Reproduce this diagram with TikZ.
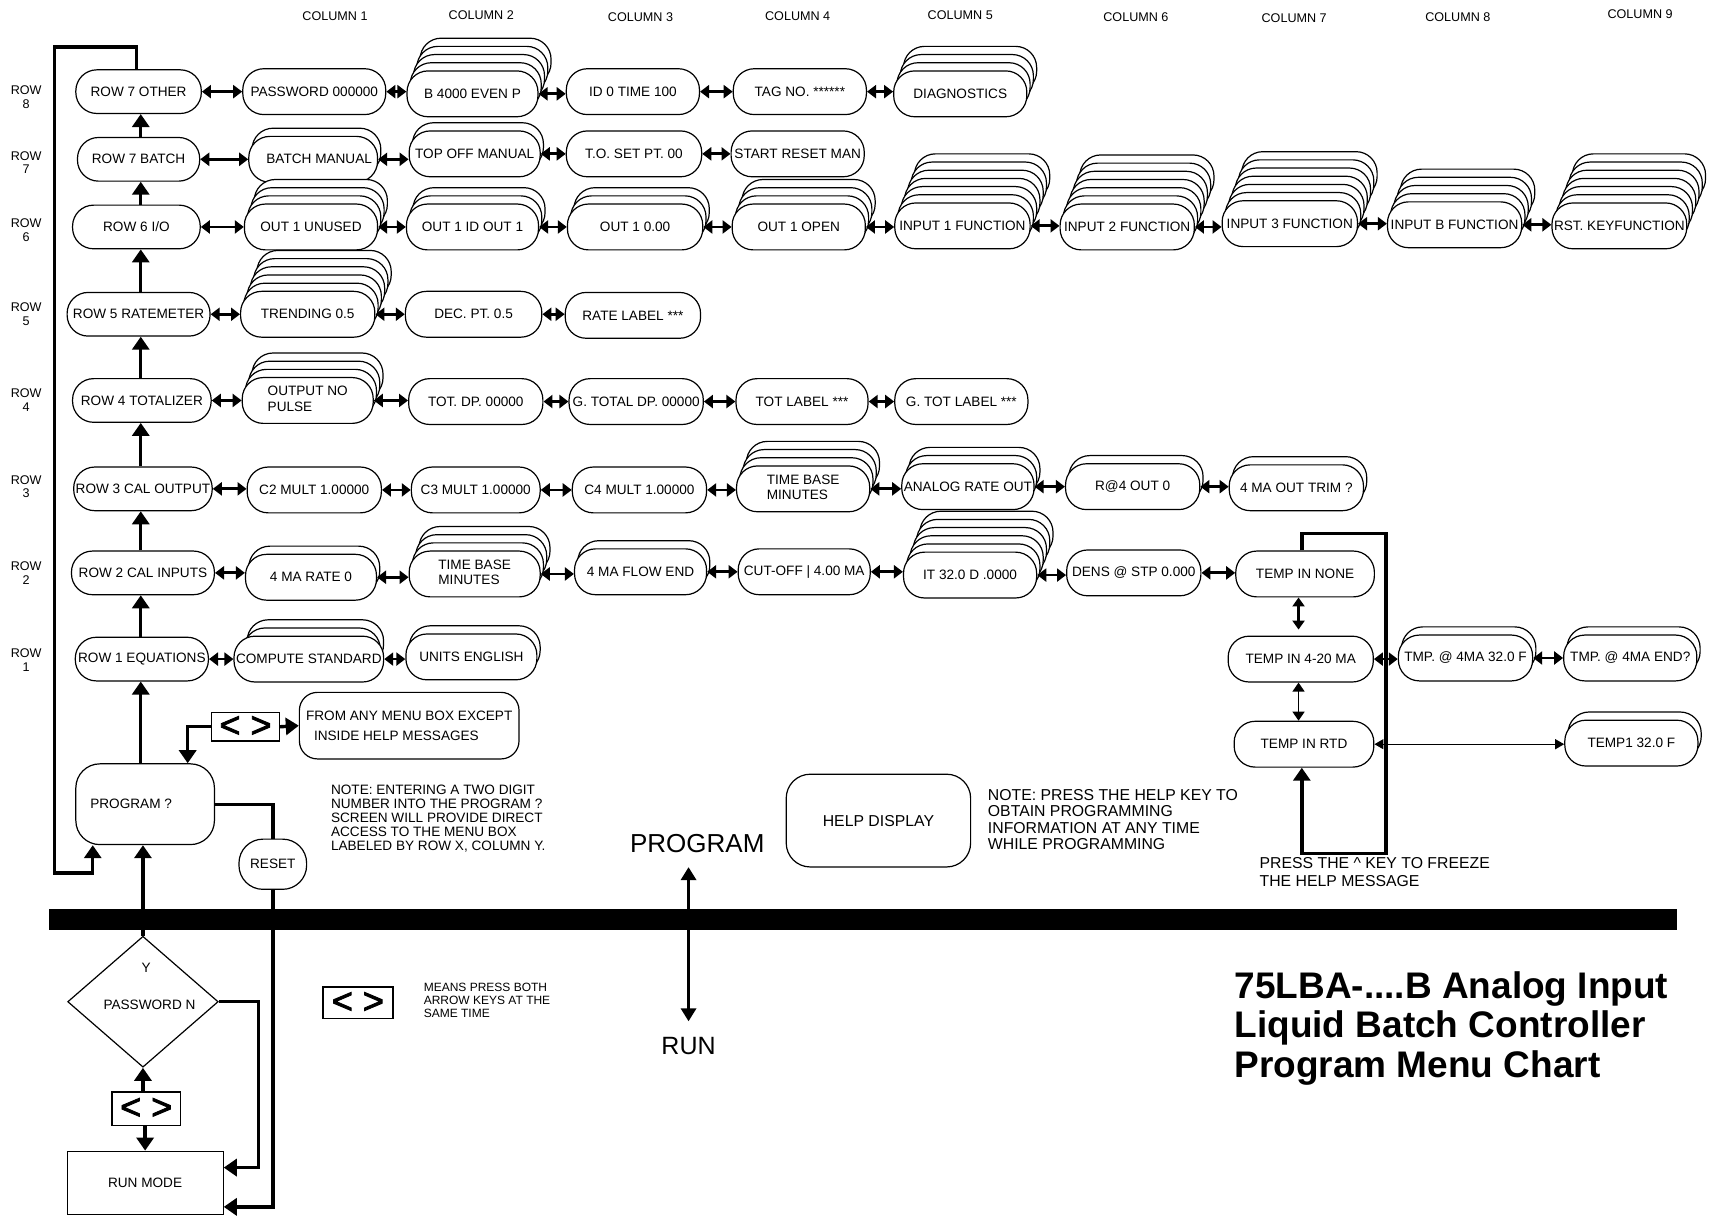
\documentclass[tikz,border=0pt]{standalone}
\usepackage{fontspec}
\setmainfont{Liberation Sans}
\newfontfamily\chevf[FakeBold=2.5]{Liberation Sans}
\usetikzlibrary{arrows.meta,shapes.geometric,calc}
\def\pxu{0.5456pt}
\newcommand\bxf{\fontsize{6.8}{7.6}\selectfont}
\newcommand\lblf{\fontsize{6.3}{6.9}\selectfont}
\newcommand\mstack[6]{%
  \ifnum#5>0
    \foreach \k in {#5,...,1}{\node[mbox, minimum width=#4*\pxu] at ({#2+3*\k},{#3-7.5*\k}) {};}
  \fi
  \node[mbox, minimum width=#4*\pxu] (#1) at (#2,#3) {#6};}
\newcommand\harr[2]{\draw[dbl] (#1.east) -- (#1.east -| #2.west);}
\begin{document}
\begin{tikzpicture}[x=0.5456pt,y=-0.5456pt,
  mbox/.style={draw, line width=0.6pt, rounded corners=10.5pt, minimum height=42*\pxu, inner sep=1pt, fill=white, font=\bxf, align=center},
  lbox/.style={mbox, minimum height=40*\pxu},
  dbl/.style={line width=1.4pt, {Triangle[length=4.5pt,width=6.5pt]}-{Triangle[length=4.5pt,width=6.5pt]}},
  thindbl/.style={line width=0.6pt, {Triangle[length=4.5pt,width=5pt]}-{Triangle[length=4.5pt,width=5pt]}},
  upar/.style={line width=1.7pt, -{Triangle[length=6.5pt,width=8.5pt]}},
  loopl/.style={line width=1.7pt},
  keybox/.style={draw, line width=0.8pt, inner sep=0pt, font=\fontsize{18}{18}\chevf},
  plain/.style={inner sep=0pt, align=left, anchor=north west}]
\useasboundingbox (0,0) rectangle (1568,1115);

% column and row labels
\foreach \c/\xx/\yy in {1/307/15,2/441/14,3/587/16,4/731/15,5/880/14,6/1041/16,7/1186/17,8/1336/16,9/1503/13}
  \node[font=\lblf] (cl\c) at (\xx,\yy) {COLUMN \c};
\foreach \r/\yy in {8/89,7/149,6/211,5/288,4/367,3/446,2/525,1/605}
  \node[font=\lblf, align=center] (rl\r) at (24,\yy) {ROW\\\r};

% left column
\node[lbox, minimum width=115*\pxu] (r8) at (127,84) {ROW 7 OTHER};
\node[lbox, minimum width=112*\pxu] (r7) at (127,146) {ROW 7 BATCH};
\node[lbox, minimum width=117*\pxu] (r6) at (125,208) {ROW 6 I/O};
\node[lbox, minimum width=131*\pxu] (r5) at (127,288) {ROW 5 RATEMETER};
\node[lbox, minimum width=127*\pxu] (r4) at (130,367) {ROW 4 TOTALIZER};
\node[lbox, minimum width=125*\pxu] (r3) at (131,448) {ROW 3 CAL OUTPUT};
\node[lbox, minimum width=131*\pxu] (r2) at (131,525) {ROW 2 CAL INPUTS};
\node[lbox, minimum width=122*\pxu] (r1) at (130,604) {ROW 1 EQUATIONS};

% row 8
\mstack{a82}{288}{84}{131}{0}{PASSWORD 000000}
\mstack{a83}{433}{86}{120}{4}{B 4000 EVEN P}
\mstack{a84}{580}{84}{122}{0}{ID 0 TIME 100}
\mstack{a85}{733}{84}{122}{0}{TAG NO. ******}
\mstack{a86}{880}{86}{122}{3}{DIAGNOSTICS}
% row 7
\mstack{a72}{287}{146}{118}{1}{\hspace*{6pt}BATCH MANUAL}
\mstack{a73}{435}{141}{120}{1}{TOP OFF MANUAL}
\mstack{a74}{581}{141}{124}{0}{T.O. SET PT. 00}
\mstack{a75}{731}{141}{122}{0}{START RESET MAN}
% row 6
\mstack{a62}{285}{208}{122}{3}{OUT 1 UNUSED}
\mstack{a63}{433}{208}{121}{2}{OUT 1 ID OUT 1}
\mstack{a64}{582}{208}{124}{2}{OUT 1 0.00}
\mstack{a65}{732}{208}{122}{3}{OUT 1 OPEN}
\mstack{a66}{882}{207}{124}{6}{INPUT 1 FUNCTION}
\mstack{a67}{1033}{208}{123}{6}{INPUT 2 FUNCTION}
\mstack{a68}{1182}{205}{124}{6}{INPUT 3 FUNCTION}
\mstack{a69}{1333}{206}{123}{4}{INPUT B FUNCTION}
\mstack{a6a}{1484}{207}{122}{6}{RST. KEYFUNCTION}
% row 5
\mstack{a52}{282}{288}{123}{5}{TRENDING 0.5}
\mstack{a53}{434}{288}{125}{0}{DEC. PT. 0.5}
\mstack{a54}{580}{289}{124}{0}{RATE LABEL ***}
% row 4
\mstack{a42}{282}{367}{120}{3}{\begin{tabular}{@{}l@{}}OUTPUT NO\\PULSE\end{tabular}}
\mstack{a43}{436}{368}{123}{0}{TOT. DP. 00000}
\mstack{a44}{583}{368}{123}{0}{G. TOTAL DP. 00000}
\mstack{a45}{735}{368}{121}{0}{TOT LABEL ***}
\mstack{a46}{881}{368}{122}{0}{G. TOT LABEL ***}
% row 3
\mstack{a32}{288}{449}{123}{0}{C2 MULT 1.00000}
\mstack{a33}{436}{449}{118}{0}{C3 MULT 1.00000}
\mstack{a34}{586}{449}{123}{0}{C4 MULT 1.00000}
\mstack{a35}{736}{448}{122}{3}{\begin{tabular}{@{}l@{}}TIME BASE\\MINUTES\end{tabular}}
\mstack{a36}{887}{446}{120}{2}{ANALOG RATE OUT}
\mstack{a37}{1038}{446}{123}{1}{R@4 OUT 0}
\mstack{a38}{1188}{447}{123}{1}{4 MA OUT TRIM ?}
% row 2
\mstack{a22}{285}{529}{120}{1}{4 MA RATE 0}
\mstack{a23}{435}{526}{120}{3}{\begin{tabular}{@{}l@{}}TIME BASE\\MINUTES\end{tabular}}
\mstack{a24}{587}{524}{121}{1}{4 MA FLOW END}
\mstack{a25}{737}{524}{121}{0}{CUT-OFF | 4.00 MA}
\mstack{a26}{889}{527}{122}{5}{IT 32.0 D .0000}
\mstack{a27}{1039}{525}{123}{0}{DENS @ STP 0.000}
\mstack{a28}{1196}{526}{127}{0}{TEMP IN NONE}
% row 1
\mstack{a12}{283}{604}{125}{2}{COMPUTE STANDARD}
\mstack{a13}{432}{602}{120}{1}{UNITS ENGLISH}
\mstack{t2}{1192}{604}{133}{0}{TEMP IN 4-20 MA}
\mstack{t3}{1343}{603}{123}{1}{TMP. @ 4MA 32.0 F}
\mstack{t4}{1494}{603}{122}{1}{TMP. @ 4MA END?}
\mstack{trtd}{1195}{682}{128}{0}{TEMP IN RTD}
\mstack{tt1}{1495}{681}{122}{1}{TEMP1 32.0 F}

% row double arrows
\harr{r8}{a82}\harr{a82}{a83}\harr{a83}{a84}\harr{a84}{a85}\harr{a85}{a86}
\harr{r7}{a72}\harr{a72}{a73}\harr{a73}{a74}\harr{a74}{a75}
\harr{r6}{a62}\harr{a62}{a63}\harr{a63}{a64}\harr{a64}{a65}\harr{a65}{a66}\harr{a66}{a67}\harr{a67}{a68}\harr{a68}{a69}\harr{a69}{a6a}
\harr{r5}{a52}\harr{a52}{a53}\harr{a53}{a54}
\harr{r4}{a42}\harr{a42}{a43}\harr{a43}{a44}\harr{a44}{a45}\harr{a45}{a46}
\harr{r3}{a32}\harr{a32}{a33}\harr{a33}{a34}\harr{a34}{a35}\harr{a35}{a36}\harr{a36}{a37}\harr{a37}{a38}
\harr{r2}{a22}\harr{a22}{a23}\harr{a23}{a24}\harr{a24}{a25}\harr{a25}{a26}\harr{a26}{a27}\harr{a27}{a28}
\harr{r1}{a12}\harr{a12}{a13}
\harr{t2}{t3}\harr{t3}{t4}
\draw[thindbl] (trtd.east) -- (trtd.east -| tt1.west);

% temperature vertical arrows and loop
\coordinate (tx) at (1190,0);
\draw[line width=1.2pt, {Triangle[length=4.5pt,width=6pt]}-{Triangle[length=4.5pt,width=6pt]}, shorten >=3pt] (a28.south -| tx) -- (t2.north -| tx);
\draw[line width=0.7pt, {Triangle[length=4.5pt,width=6pt]}-{Triangle[length=4.5pt,width=6pt]}] (t2.south -| tx) -- (trtd.north -| tx);
\coordinate (q1) at (1270,489);
\coordinate (q2) at (1270,782);
\coordinate (q3) at (1193,782);
\draw[loopl, -{Triangle[length=6.5pt,width=8.5pt]}] (a28.north -| q3) |- (q1) -- (q2) -- (q3) -- (q3 |- trtd.south);

% program area
\node[draw, line width=0.6pt, rounded corners=12pt, minimum width=127*\pxu, minimum height=74*\pxu, font=\bxf] (prog) at (133,737) {PROGRAM ?\hspace*{14pt}};
\node[draw, line width=0.6pt, rounded corners=12pt, minimum width=62*\pxu, minimum height=46*\pxu, font=\bxf, inner sep=0pt] (reset) at (250,792) {RESET};
\node[keybox, minimum width=62*\pxu, minimum height=26*\pxu] (kb1) at (225,666) {<\hspace{5pt}>};
\node[draw, line width=0.6pt, rounded corners=9pt, minimum width=176*\pxu, minimum height=61*\pxu, font=\bxf, align=left] (fr) at (375,665) {FROM ANY MENU BOX EXCEPT\\[2.5pt]\hspace*{4pt}INSIDE HELP MESSAGES};

% chain arrows
\coordinate (cx) at (129,0);
\draw[upar] (r7.north -| cx) -- (r8.south -| cx);
\draw[upar] (r6.north -| cx) -- (r7.south -| cx);
\draw[upar] (r5.north -| cx) -- (r6.south -| cx);
\draw[upar] (r4.north -| cx) -- (r5.south -| cx);
\draw[upar] (r3.north -| cx) -- (r4.south -| cx);
\draw[upar] (r2.north -| cx) -- (r3.south -| cx);
\draw[upar] (r1.north -| cx) -- (r2.south -| cx);
\draw[upar] (prog.north -| cx) -- (r1.south -| cx);

% left loop
\coordinate (lp1) at (50,43);
\coordinate (lp2) at (50,800);
\coordinate (lp3) at (85,800);
\draw[loopl, -{Triangle[length=6.5pt,width=8.5pt]}] (r8.north -| 125,0) |- (lp1) -- (lp2) -- (lp3) -- (lp3 |- prog.south);

% key box to program / from-box
\coordinate (b3) at (172,666);
\draw[loopl, -{Triangle[length=6.5pt,width=8.5pt]}] (kb1.west) -- (b3) -- (b3 |- prog.north);
\draw[upar] (kb1.east) -- (fr.west);

% prog to reset
\draw[loopl] (prog.east) -| (reset.north);

% thick bar
\node[fill=black, inner sep=0pt, minimum width=1492*\pxu, minimum height=19*\pxu] (bar) at (791,842.5) {};

% diamond and run mode
\node[diamond, draw, line width=0.6pt, minimum width=138*\pxu, minimum height=120*\pxu, inner sep=0pt] (dia) at (131,918) {};
\node[font=\bxf] (dy) at (134,887) {Y};
\node[font=\bxf] (dp) at (137,921) {PASSWORD N};
\node[keybox, minimum width=63*\pxu, minimum height=31*\pxu] (kb2) at (134,1016) {<\hspace{5pt}>};
\node[draw, line width=0.6pt, minimum width=143*\pxu, minimum height=58*\pxu, font=\bxf] (runm) at (133,1084) {RUN MODE};
\draw[upar] (dia.north) -- (dia.north |- prog.south);
\draw[upar] (kb2.north -| dia.south) -- (dia.south);
\draw[upar] (kb2.south -| runm.north) -- (runm.north);
\coordinate (b1) at (237,1070);
\coordinate (b2) at (0,1106);
\draw[loopl, -{Triangle[length=6.5pt,width=8.5pt]}] (dia.east) -| (b1) -- (b1 -| runm.east);
\draw[loopl, -{Triangle[length=6.5pt,width=8.5pt]}] (reset.south) -- (reset.south |- b2) -- (b2 -| runm.east);

% legend
\node[keybox, minimum width=64*\pxu, minimum height=29*\pxu] (kb3) at (328,919) {<\hspace{5pt}>};
\node[plain, font=\fontsize{6}{6.5}\selectfont] (leg) at (388,901) {MEANS PRESS BOTH\\ARROW KEYS AT THE\\SAME TIME};

% notes
\node[plain, font=\fontsize{6.8}{7.05}\selectfont] (note1) at (303,719) {NOTE: ENTERING A TWO DIGIT\\NUMBER INTO THE PROGRAM ?\\SCREEN WILL PROVIDE DIRECT\\ACCESS TO THE MENU BOX\\LABELED BY ROW X, COLUMN Y.};
\node[draw, line width=0.6pt, rounded corners=12pt, minimum width=169*\pxu, minimum height=85*\pxu, font=\fontsize{7.9}{9}\selectfont] (hd) at (805,752) {HELP DISPLAY};
\node[plain, font=\fontsize{7.9}{8.2}\selectfont] (note2) at (905,723) {NOTE: PRESS THE HELP KEY TO\\OBTAIN PROGRAMMING\\INFORMATION AT ANY TIME\\WHILE PROGRAMMING};
\node[plain, font=\fontsize{7.9}{9.3}\selectfont] (note3) at (1154,785) {PRESS THE \^{} KEY TO FREEZE\\THE HELP MESSAGE};

% program / run
\node[font=\fontsize{13}{13}\selectfont, inner sep=0pt] (pg) at (639,773) {PROGRAM};
\node[font=\fontsize{12.5}{13}\selectfont, inner sep=0pt] (rn) at (631,959) {RUN};
\coordinate (px) at (631,0);
\draw[line width=1.6pt, {Triangle[length=6.5pt,width=7.5pt]}-{Triangle[length=6.5pt,width=7.5pt]}, shorten <=7pt, shorten >=8pt] (pg.south -| px) -- (rn.north -| px);

% title
\node[plain, font=\fontsize{18.5}{19.7}\selectfont\bfseries] (title) at (1131,890) {75LBA-....B Analog Input\\Liquid Batch Controller\\Program Menu Chart};
\end{tikzpicture}
\end{document}
